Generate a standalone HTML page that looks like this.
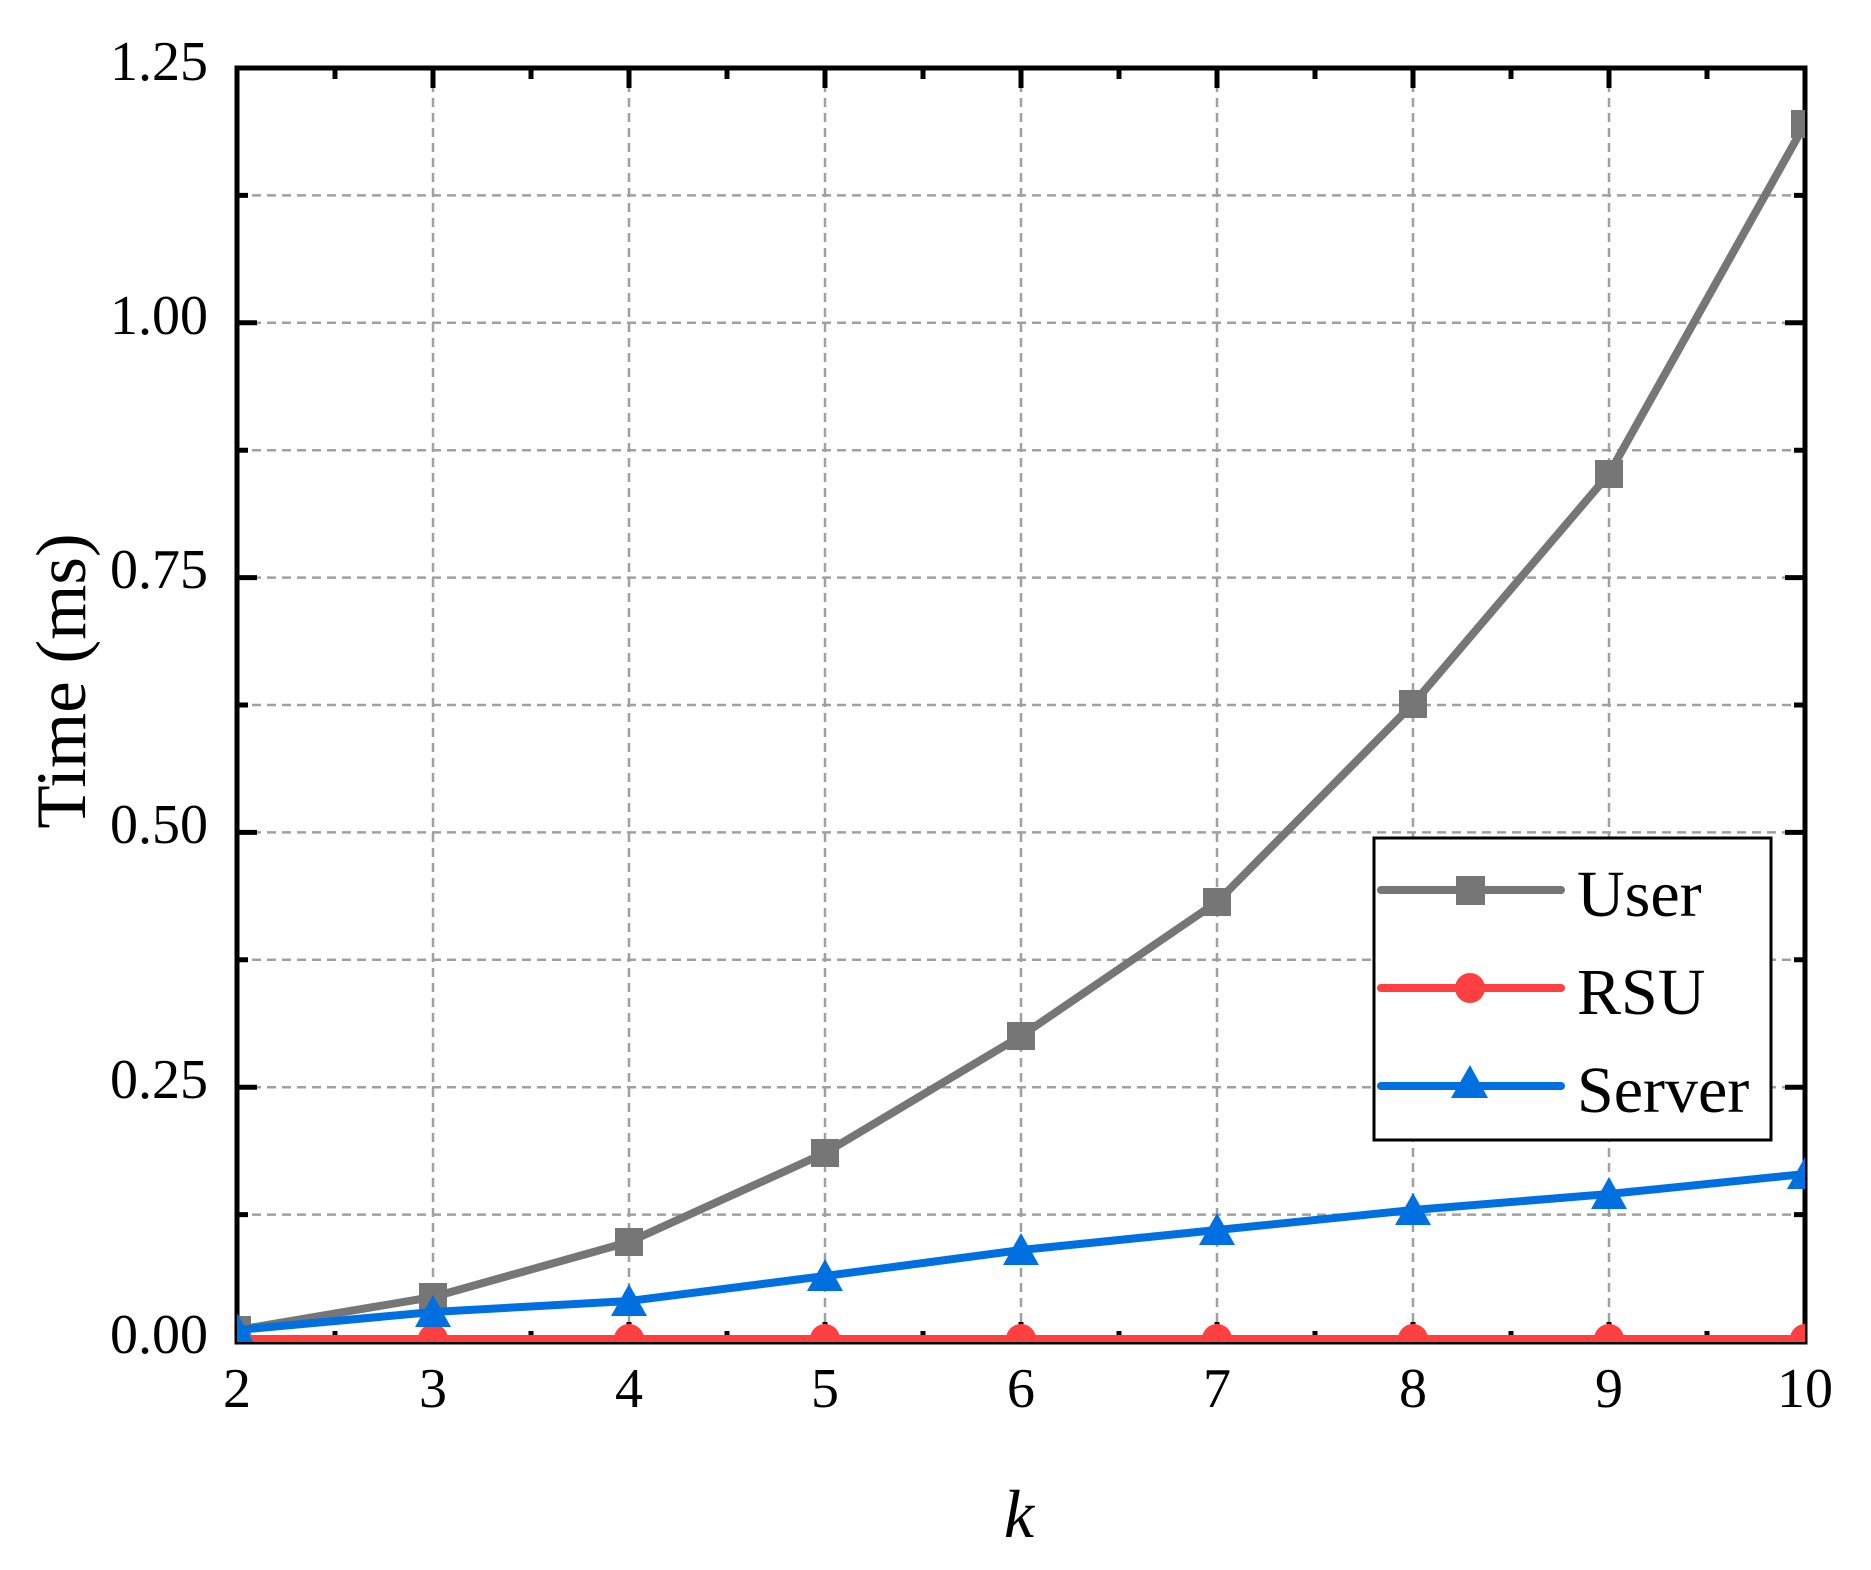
<!DOCTYPE html>
<html><head><meta charset="utf-8"><style>body{margin:0;background:#fff}svg{display:block}</style></head>
<body>
<svg width="1871" height="1570" viewBox="0 0 1871 1570" xmlns="http://www.w3.org/2000/svg" font-family="Liberation Serif, serif">
<g stroke="#a0a0a0" stroke-width="2.5" stroke-dasharray="9,6" fill="none">
<path d="M433 68V1342M629 68V1342M825 68V1342M1021 68V1342M1217 68V1342M1413 68V1342M1609 68V1342"/>
<path d="M237 1214.6H1805M237 1087.2H1805M237 959.8H1805M237 832.4H1805M237 705H1805M237 577.6H1805M237 450.2H1805M237 322.8H1805M237 195.4H1805"/>
</g>
<g stroke="#000" stroke-width="5" fill="none">
<path d="M237 1342v-20M433 1342v-20M629 1342v-20M825 1342v-20M1021 1342v-20M1217 1342v-20M1413 1342v-20M1609 1342v-20M1805 1342v-20"/>
<path d="M335 1342v-11M531 1342v-11M727 1342v-11M923 1342v-11M1119 1342v-11M1315 1342v-11M1511 1342v-11M1707 1342v-11"/>
<path d="M237 68v20M433 68v20M629 68v20M825 68v20M1021 68v20M1217 68v20M1413 68v20M1609 68v20"/>
<path d="M335 68v11M531 68v11M727 68v11M923 68v11M1119 68v11M1315 68v11M1511 68v11M1707 68v11"/>
<path d="M237 1087.2h20M237 832.4h20M237 577.6h20M237 322.8h20M237 1214.6h11M237 959.8h11M237 705h11M237 450.2h11M237 195.4h11"/>
<path d="M1805 1087.2h-20M1805 832.4h-20M1805 577.6h-20M1805 322.8h-20M1805 1214.6h-11M1805 959.8h-11M1805 705h-11M1805 450.2h-11M1805 195.4h-11"/>
<rect x="237" y="68" width="1568" height="1274"/>
</g>
<g font-size="56" text-anchor="end">
<text x="208" y="1353">0.00</text><text x="208" y="1098">0.25</text><text x="208" y="843">0.50</text><text x="208" y="588">0.75</text><text x="208" y="334">1.00</text><text x="208" y="80">1.25</text>
</g>
<g font-size="56" text-anchor="middle">
<text x="237" y="1407">2</text><text x="433" y="1407">3</text><text x="629" y="1407">4</text><text x="825" y="1407">5</text><text x="1021" y="1407">6</text><text x="1217" y="1407">7</text><text x="1413" y="1407">8</text><text x="1609" y="1407">9</text><text x="1805" y="1407">10</text>
</g>
<text x="1019" y="1537" font-size="68" font-style="italic" text-anchor="middle">k</text>
<text transform="translate(85 681) rotate(-90)" font-size="71" text-anchor="middle">Time (ms)</text>
<defs><clipPath id="c"><rect x="237" y="60" width="1568" height="1282"/></clipPath></defs>
<g clip-path="url(#c)">
<polyline fill="none" stroke="#ff4040" stroke-width="8" points="237,1339 1805,1339"/>
<g fill="#ff4040"><circle cx="237" cy="1339" r="15"/><circle cx="433" cy="1339" r="15"/><circle cx="629" cy="1339" r="15"/><circle cx="825" cy="1339" r="15"/><circle cx="1021" cy="1339" r="15"/><circle cx="1217" cy="1339" r="15"/><circle cx="1413" cy="1339" r="15"/><circle cx="1609" cy="1339" r="15"/><circle cx="1805" cy="1339" r="15"/></g>
<polyline fill="none" stroke="#767676" stroke-width="8" stroke-linejoin="round" points="237,1330 433,1297 629,1242 825,1153 1021,1036 1217,902 1413,704 1609,474 1805,124"/>
<g fill="#767676"><rect x="223" y="1316" width="28" height="28"/><rect x="419" y="1283" width="28" height="28"/><rect x="615" y="1228" width="28" height="28"/><rect x="811" y="1139" width="28" height="28"/><rect x="1007" y="1022" width="28" height="28"/><rect x="1203" y="888" width="28" height="28"/><rect x="1399" y="690" width="28" height="28"/><rect x="1595" y="460" width="28" height="28"/><rect x="1791" y="110" width="28" height="28"/></g>
<polyline fill="none" stroke="#0070e0" stroke-width="8" stroke-linejoin="round" points="237,1330 433,1312 629,1301 825,1276 1021,1250 1217,1230 1413,1210 1609,1194 1805,1174"/>
<g fill="#0070e0">
<path d="M237 1313l18 32h-36z"/><path d="M433 1295l18 32h-36z"/><path d="M629 1284l18 32h-36z"/><path d="M825 1259l18 32h-36z"/><path d="M1021 1233l18 32h-36z"/><path d="M1217 1213l18 32h-36z"/><path d="M1413 1193l18 32h-36z"/><path d="M1609 1177l18 32h-36z"/><path d="M1805 1157l18 32h-36z"/>
</g>
</g>
<rect x="1374" y="838" width="397" height="302" fill="#fff" stroke="#000" stroke-width="3"/>
<g stroke-width="8" stroke-linecap="round">
<line x1="1381" y1="890" x2="1561" y2="890" stroke="#767676"/>
<line x1="1381" y1="988" x2="1561" y2="988" stroke="#ff4040"/>
<line x1="1381" y1="1086" x2="1561" y2="1086" stroke="#0070e0"/>
</g>
<rect x="1456" y="876" width="29" height="29" fill="#767676"/>
<circle cx="1470" cy="988" r="15" fill="#ff4040"/>
<path d="M1470 1065l18 33h-37z" fill="#0070e0"/>
<g font-size="66">
<text x="1577" y="916">User</text><text x="1577" y="1014">RSU</text><text x="1577" y="1112">Server</text>
</g>
</svg>
</body></html>
